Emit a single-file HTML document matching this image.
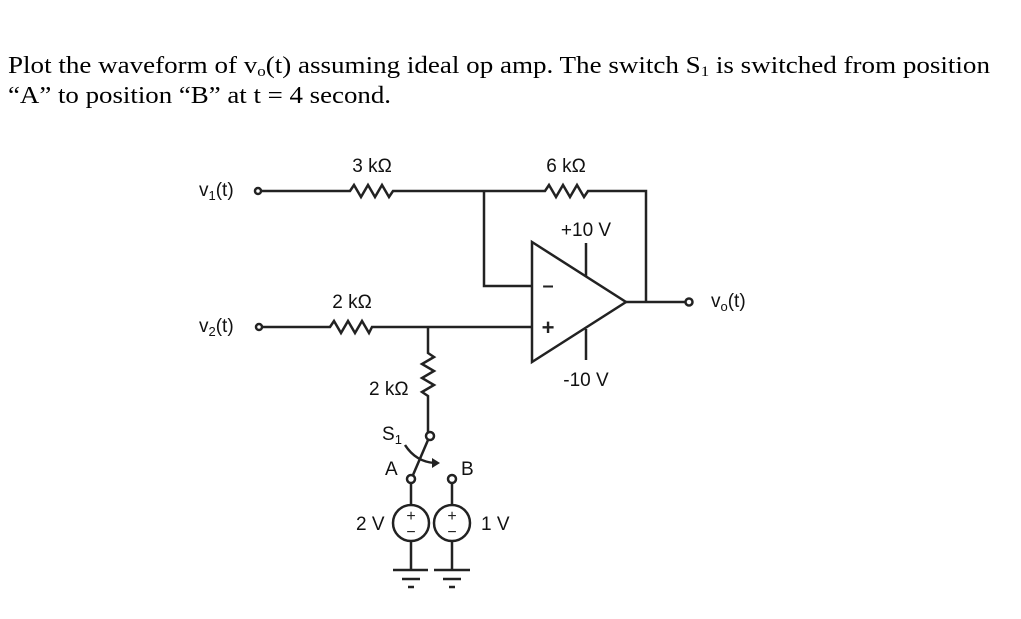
<!DOCTYPE html>
<html><head><meta charset="utf-8"><style>
html,body{margin:0;padding:0;background:#fff;}
svg{display:block;}
.t{font-family:"Liberation Serif",serif;font-size:24px;fill:#000;}
.l{font-family:"Liberation Sans","DejaVu Sans",sans-serif;font-size:19px;fill:#111;}
</style></head><body>
<svg width="1021" height="619" viewBox="0 0 1021 619" xmlns="http://www.w3.org/2000/svg">
<text class="t" x="8" y="73" textLength="982" lengthAdjust="spacingAndGlyphs">Plot the waveform of v<tspan font-size="15" dy="3">o</tspan><tspan dy="-3">(t) assuming ideal op amp. The switch S</tspan><tspan font-size="15" dy="3">1</tspan><tspan dy="-3"> is switched from position</tspan></text>
<text class="t" x="8" y="103" textLength="383" lengthAdjust="spacingAndGlyphs">“A” to position “B” at t = 4 second.</text>

<g stroke="#222" stroke-width="2.5" fill="none" stroke-linejoin="miter">
<circle cx="258" cy="191" r="3" fill="#fff"/>
<path d="M261 191 H350 l4 -6 l7 12 l7 -12 l7 12 l7 -12 l7 12 l4 -6 H545 l4 -6 l7 12 l7 -12 l7 12 l7 -12 l7 12 l4 -6 H646 V302"/>
<path d="M484 191 V286 H532"/>
<path d="M532 242 L626 302 L532 362 Z"/>
<path d="M586 243 V276 M586 329 V360"/>
<path d="M626 302 H685"/>
<circle cx="689" cy="302" r="3.5" fill="#fff"/>
<circle cx="259" cy="327" r="3" fill="#fff"/>
<path d="M262 327 H330 l4 -6 l7 12 l7 -12 l7 12 l7 -12 l7 12 l3 -6 H532"/>
<path d="M428 327 V353 l6 4 l-12 7 l12 7 l-12 7 l12 7 l-12 7 l6 4 V432"/>
<circle cx="430" cy="436" r="4" fill="#fff"/>
<path d="M428 440 L413 475"/>
<circle cx="411" cy="479" r="4" fill="#fff"/>
<circle cx="452" cy="479" r="4" fill="#fff"/>
<path d="M411 483 V505 M452 483 V505"/>
<path d="M405 445 Q416 462 435 463"/>
<circle cx="411" cy="523" r="18"/>
<circle cx="452" cy="523" r="18"/>
<path d="M411 541 V570 M452 541 V570"/>
<path d="M393 570 H428 M402 579 H420 M408 587 H414"/>
<path d="M434 570 H470 M443 579 H461 M449 587 H455"/>
</g>
<path d="M440 463 L432 458 L432 468 Z" fill="#222"/>
<g font-family="Liberation Sans,sans-serif" font-size="16" fill="#222" text-anchor="middle">
<text x="411" y="521">+</text><text x="452" y="521">+</text>
<text x="411" y="537">−</text><text x="452" y="537">−</text>
</g>
<text x="548" y="292" font-family="Liberation Sans,sans-serif" font-size="20" font-weight="bold" fill="#222" text-anchor="middle">–</text>
<text x="548" y="335" font-family="Liberation Sans,sans-serif" font-size="22" font-weight="bold" fill="#222" text-anchor="middle">+</text>
<g class="l">
<text x="199" y="196">v<tspan font-size="13" dy="4">1</tspan><tspan dy="-4">(t)</tspan></text>
<text x="199" y="332">v<tspan font-size="13" dy="4">2</tspan><tspan dy="-4">(t)</tspan></text>
<text x="711" y="307">v<tspan font-size="13" dy="4">o</tspan><tspan dy="-4">(t)</tspan></text>
<text x="372" y="172" text-anchor="middle">3 kΩ</text>
<text x="566" y="172" text-anchor="middle">6 kΩ</text>
<text x="352" y="308" text-anchor="middle">2 kΩ</text>
<text x="586" y="236" text-anchor="middle">+10 V</text>
<text x="586" y="386" text-anchor="middle">-10 V</text>
<text x="369" y="395">2 kΩ</text>
<text x="382" y="440">S<tspan font-size="13" dy="4">1</tspan></text>
<text x="385" y="475">A</text>
<text x="461" y="475">B</text>
<text x="356" y="530">2 V</text>
<text x="481" y="530">1 V</text>
</g>
</svg>
</body></html>
